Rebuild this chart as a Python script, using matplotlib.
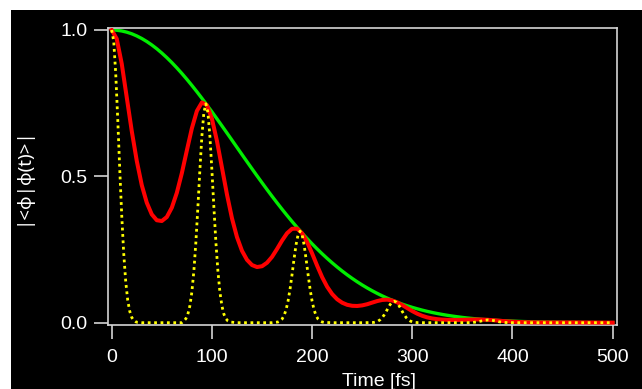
import numpy as np
import matplotlib
matplotlib.use("Agg")
import matplotlib.pyplot as plt
from matplotlib.patches import Rectangle

plt.rcParams['font.family'] = ['Liberation Sans', 'DejaVu Sans']

# ---- data ----
time = np.arange(0, 505, 5)

envelope = [1.0, 0.9992, 0.9967, 0.9926, 0.9870, 0.9797, 0.9709, 0.9606, 0.9489, 0.9358,
            0.9213, 0.9056, 0.8887, 0.8706, 0.8516, 0.8316, 0.8107, 0.7891, 0.7668, 0.7438,
            0.7205, 0.6967, 0.6725, 0.6482, 0.6237, 0.5991, 0.5746, 0.5502, 0.5259, 0.5019,
            0.4782, 0.4549, 0.4320, 0.4096, 0.3877, 0.3664, 0.3457, 0.3256, 0.3062, 0.2875,
            0.2694, 0.2521, 0.2355, 0.2197, 0.2046, 0.1902, 0.1765, 0.1635, 0.1513, 0.1397,
            0.1288, 0.1186, 0.1090, 0.1000, 0.0916, 0.0838, 0.0765, 0.0697, 0.0634, 0.0576,
            0.0523, 0.0474, 0.0428, 0.0386, 0.0348, 0.0313, 0.0281, 0.0252, 0.0226, 0.0202,
            0.0180, 0.0160, 0.0143, 0.0127, 0.0112, 0.0099, 0.0088, 0.0078, 0.0068, 0.0060,
            0.0053, 0.0046, 0.0040, 0.0035, 0.0031, 0.0027, 0.0023, 0.0020, 0.0018, 0.0015,
            0.0013, 0.0011, 0.0010, 0.0008, 0.0007, 0.0006, 0.0005, 0.0004, 0.0004, 0.0003,
            0.0003]

autocorr = [1.0, 0.9700, 0.8850, 0.7700, 0.6550, 0.5530, 0.4700, 0.4100, 0.3700, 0.3500,
            0.3474, 0.3610, 0.3931, 0.4438, 0.5110, 0.5885, 0.6641, 0.7232, 0.7524, 0.7434,
            0.6969, 0.6213, 0.5303, 0.4386, 0.3571, 0.2927, 0.2458, 0.2148, 0.1970, 0.1901,
            0.1929, 0.2048, 0.2248, 0.2517, 0.2805, 0.3056, 0.3208, 0.3213, 0.3056, 0.2757,
            0.2367, 0.1949, 0.1557, 0.1229, 0.0979, 0.0801, 0.0683, 0.0611, 0.0577, 0.0571,
            0.0591, 0.0631, 0.0686, 0.0739, 0.0777, 0.0787, 0.0758, 0.0694, 0.0602, 0.0498,
            0.0396, 0.0306, 0.0234, 0.0180, 0.0144, 0.0120, 0.0105, 0.0097, 0.0094, 0.0094,
            0.0098, 0.0103, 0.0108, 0.0110, 0.0106, 0.0099, 0.0087, 0.0073, 0.0058, 0.0045,
            0.0033, 0.0025, 0.0018, 0.0014, 0.0012, 0.0010, 0.0009, 0.0008, 0.0008, 0.0008,
            0.0008, 0.0008, 0.0009, 0.0008, 0.0007, 0.0006, 0.0005, 0.0003, 0.0003, 0.0002,
            0.0002]

sharp_time = [0, 2, 4, 6, 8, 10, 12, 14, 16, 18, 20, 22, 24, 26, 30, 40, 50, 60, 70,
              72, 74, 76, 78, 80, 82, 84, 86, 88, 90, 92, 94, 96, 98, 100, 102, 104, 106,
              108, 110, 112, 114, 116, 118, 125, 135, 145, 155, 160,
              166, 168, 170, 172, 174, 176, 178, 180, 182, 184, 186, 188, 190, 192, 194,
              196, 198, 200, 202, 204, 206, 208, 210, 212, 220, 230, 240, 250,
              260, 262, 264, 266, 268, 270, 272, 274, 276, 278, 280, 282, 284, 286, 288,
              290, 292, 294, 296, 298, 300, 302, 304, 306, 315, 325, 335, 345, 352,
              356, 360, 364, 368, 372, 376, 378, 382, 386, 390, 394, 398,
              410, 420, 430, 440, 450, 460, 470, 480, 490, 500]

sharp_vals = [1.0, 0.961, 0.852, 0.697, 0.526, 0.367, 0.236, 0.140, 0.076, 0.039, 0.018,
              0.008, 0.003, 0.001, 0.0, 0.0, 0.0, 0.0, 0.0,
              0.0058, 0.0136, 0.0291, 0.0575, 0.1049, 0.1767, 0.2747, 0.394, 0.5217, 0.6374,
              0.7187, 0.7478, 0.7181, 0.6365, 0.5206, 0.393, 0.2738, 0.176, 0.1044, 0.0572,
              0.0289, 0.0135, 0.0058, 0.0023, 0.0, 0.0, 0.0, 0.0, 0.0,
              0.0024, 0.0057, 0.0122, 0.0241, 0.044, 0.074, 0.115, 0.165, 0.2184, 0.2667,
              0.3006, 0.3128, 0.3003, 0.266, 0.2175, 0.1641, 0.1143, 0.0734, 0.0436, 0.0238,
              0.012, 0.0056, 0.0024, 0.001, 0.0, 0.0, 0.0, 0.0,
              0.0006, 0.0013, 0.0029, 0.0057, 0.0103, 0.0173, 0.0269, 0.0386, 0.0511, 0.0625,
              0.0703, 0.0731, 0.0701, 0.0621, 0.0508, 0.0383, 0.0267, 0.0172, 0.0102, 0.0056,
              0.0028, 0.0013, 0.0006, 0.0002, 0.0, 0.0, 0.0, 0.0, 0.0,
              0.0002, 0.0007, 0.0023, 0.0051, 0.0082, 0.0096, 0.0091, 0.0067, 0.0035, 0.0013,
              0.0004, 0.0001,
              0.0, 0.0, 0.0, 0.0, 0.0, 0.0, 0.0, 0.0, 0.0, 0.0]

x_ticks = [0, 100, 200, 300, 400, 500]
x_ticklabels = ["0", "100", "200", "300", "400", "500"]
y_ticks = [0.0, 0.5, 1.0]
y_ticklabels = ["0.0", "0.5", "1.0"]

# ---- figure ----
W, H = 642, 389
fig = plt.figure(figsize=(W / 100, H / 100), dpi=100, facecolor='white')
bg = Rectangle((11 / W, 0), (W - 11) / W, (H - 10) / H,
               transform=fig.transFigure, facecolor='black',
               edgecolor='none', zorder=-10)
fig.add_artist(bg)

ax_l, ax_r, ax_t, ax_b = 108.3, 616.7, 27.5, 325.0
ax = fig.add_axes([ax_l / W, 1 - ax_b / H, (ax_r - ax_l) / W, (ax_b - ax_t) / H])
ax.set_zorder(5)
ax.set_facecolor('black')

ax.plot(time, envelope, color='#00ee00', lw=2.4, zorder=2)
ax.plot(time, autocorr, color='#ff0000', lw=2.9, zorder=3)
ax.plot(sharp_time, sharp_vals, color='#ffff00', lw=2.0, zorder=4,
        dashes=(1.0, 1.3), dash_capstyle='butt')

ax.set_xlim(-3.4, 504)
ax.set_ylim(-0.0079, 1.0085)

frame_col = '#d4d4d4'
for s in ax.spines.values():
    s.set_color(frame_col)
    s.set_linewidth(1.2)

ax.set_xticks(x_ticks)
ax.set_xticklabels(x_ticklabels)
ax.set_yticks(y_ticks)
ax.set_yticklabels(y_ticklabels)
ax.tick_params(axis='both', direction='out', length=10, width=1.2, color=frame_col,
               labelcolor='white', labelsize=14)
ax.tick_params(axis='x', pad=7.2)
ax.tick_params(axis='y', pad=5)

ax.set_xlabel("Time [fs]", fontsize=14, color='white')
ax.xaxis.set_label_coords((379 - ax_l) / (ax_r - ax_l), (ax_b - 386.5) / (ax_b - ax_t))
ax.xaxis.label.set_va('baseline')

ax.set_ylabel("|<φ|φ(t)>|", fontsize=13.5, color='white',
              family=['Noto Sans', 'DejaVu Sans'])
ax.yaxis.set_label_coords((23 - ax_l) / (ax_r - ax_l), 0.5)
ax.yaxis.label.set_va('center')

fig.savefig("out.png", dpi=100, facecolor='white')
